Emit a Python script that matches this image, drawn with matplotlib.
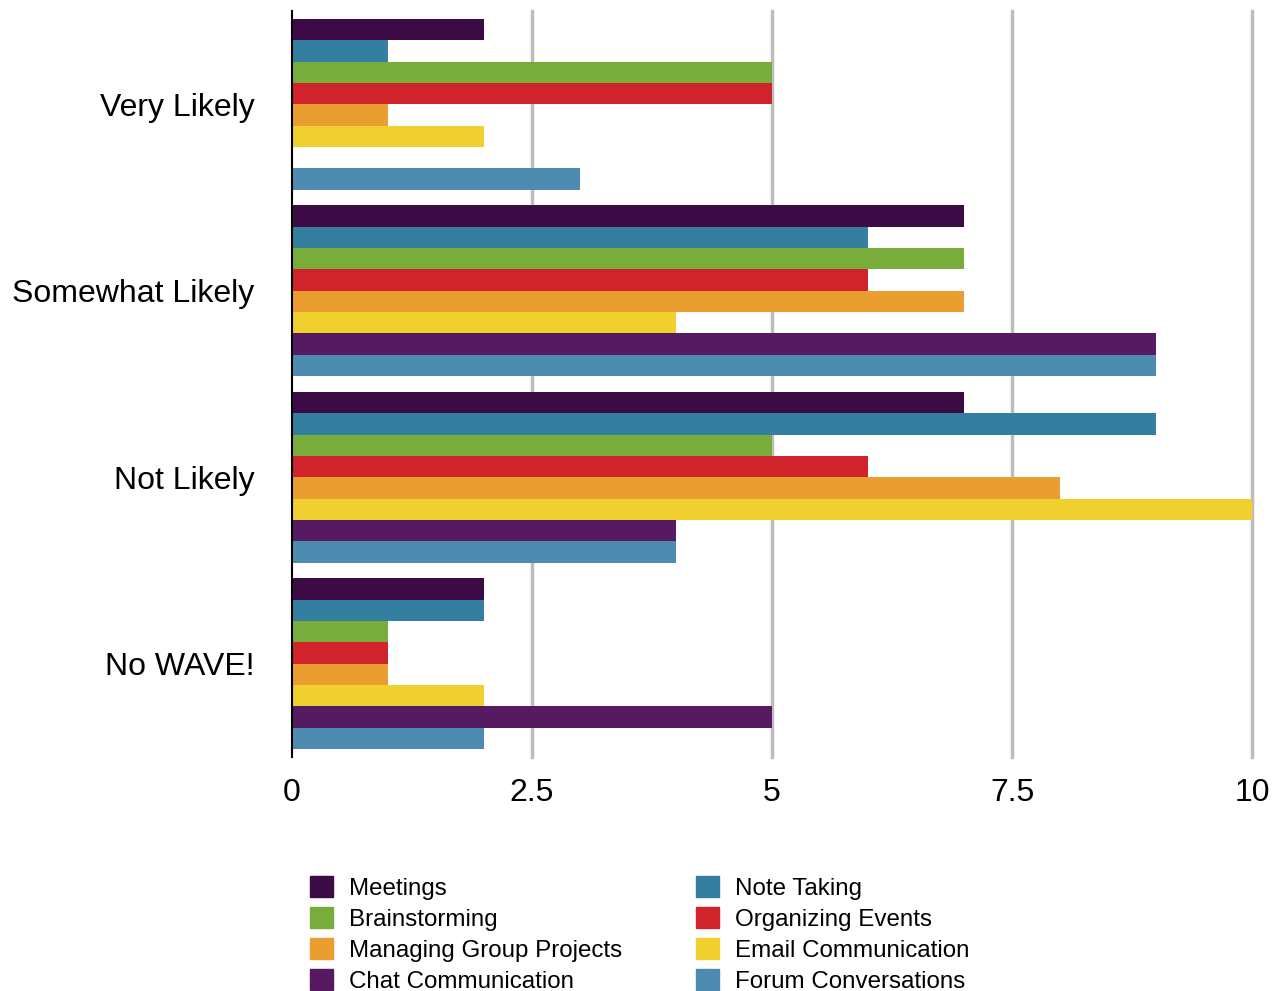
import numpy as np
import matplotlib.pyplot as plt
from matplotlib.patches import Patch

plt.rcParams['font.family'] = ['Liberation Sans', 'DejaVu Sans']

categories = ['Very Likely', 'Somewhat Likely', 'Not Likely', 'No WAVE!']
series = ['Meetings', 'Note Taking', 'Brainstorming', 'Organizing Events',
          'Managing Group Projects', 'Email Communication', 'Chat Communication',
          'Forum Conversations']
colors = ['#3c0a45', '#347ea0', '#78ad3b', '#d0232b',
          '#eb9e30', '#f0d02f', '#561a61', '#4d8cb0']

meetings = [2, 7, 7, 2]
note_taking = [1, 6, 9, 2]
brainstorming = [5, 7, 5, 1]
organizing = [5, 6, 6, 1]
managing = [1, 7, 8, 1]
email = [2, 4, 10, 2]
chat = [0, 9, 4, 5]
forum = [3, 9, 4, 2]
values = [meetings, note_taking, brainstorming, organizing,
          managing, email, chat, forum]

xticks = [0, 2.5, 5, 7.5, 10]
xticklabels = ['0', '2.5', '5', '7.5', '10']

fig = plt.figure(figsize=(12.8, 9.91), dpi=100)
ax = fig.add_axes([292/1280, 1 - 757/991, 960/1280, 746/991])

n = len(series)
h = 0.915 / n
y = np.arange(len(categories))
for i in range(n):
    ax.barh(y + (i - (n - 1) / 2) * h, values[i], height=h, color=colors[i],
            label=series[i], zorder=3)

ax.set_xlim(0, 10)
ax.set_ylim(len(categories) - 0.5, -0.5)
for xv in xticks[1:]:
    ax.axvline(xv, color='#bdbdbd', lw=2.5, zorder=1, clip_on=False)
for s in ['top', 'right', 'bottom']:
    ax.spines[s].set_visible(False)
ax.spines['left'].set_color('black')
ax.spines['left'].set_linewidth(1.5)
ax.spines['left'].set_zorder(4)

ax.set_yticks(y)
ax.set_yticklabels(categories, fontsize=23)
ax.set_xticks(xticks)
ax.set_xticklabels(xticklabels, fontsize=23)
ax.tick_params(axis='y', length=0, pad=27)
ax.tick_params(axis='x', length=0, pad=15)

order = [0, 2, 4, 6, 1, 3, 5, 7]
handles = [Patch(color=colors[k]) for k in order]
labels = [series[k] for k in order]
fig.legend(handles, labels, ncol=2, frameon=False, fontsize=17.4,
           loc='upper left', bbox_to_anchor=(310/1280, 1 - 876/991),
           borderpad=0, borderaxespad=0, handlelength=0.95, handleheight=0.95,
           handletextpad=0.66, columnspacing=3.05, labelspacing=0.30)

fig.savefig('out.png', dpi=100)
